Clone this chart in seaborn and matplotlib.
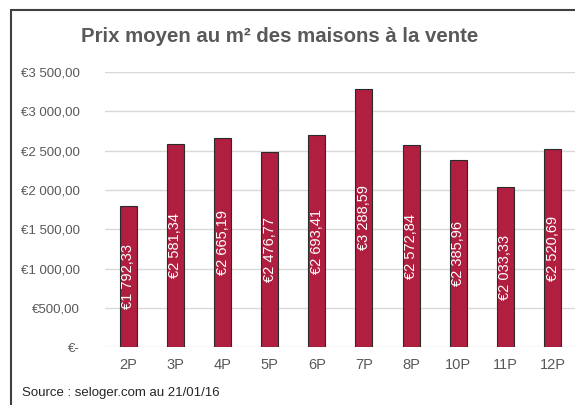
import matplotlib
matplotlib.use("Agg")
import matplotlib.pyplot as plt
import seaborn as sns
import pandas as pd
from matplotlib.ticker import FuncFormatter
from matplotlib.patches import Rectangle

categories = ["2P", "3P", "4P", "5P", "6P", "7P", "8P", "10P", "11P", "12P"]
prix = [1792.33, 2581.34, 2665.19, 2476.77, 2693.41, 3288.59, 2572.84, 2385.96, 2033.33, 2520.69]
yticks = [0, 500, 1000, 1500, 2000, 2500, 3000, 3500]

title = "Prix moyen au m² des maisons à la vente"
source = "Source : seloger.com au 21/01/16"

sns.set_theme(style="white")
plt.rcParams["font.family"] = ["Liberation Sans", "DejaVu Sans"]

grey = "#595959"
bar_color = "#B01E40"

df = pd.DataFrame({"taille": categories, "prix": prix})

fig = plt.figure(figsize=(5.75, 4.05), dpi=100)
ax = fig.add_axes([0.182, 0.143, 0.82, 0.679])

sns.barplot(data=df, x="taille", y="prix", color=bar_color, width=0.36,
            saturation=1, edgecolor="#2b2b2b", linewidth=0.8, ax=ax, zorder=3)


def euro(v):
    s = f"{v:,.2f}".replace(",", " ").replace(".", ",")
    return "€" + s


for i, v in enumerate(prix):
    ax.text(i, v / 2, euro(v), rotation=90, ha="center", va="center",
            color="white", fontsize=10.5, zorder=4)

ax.set_ylim(0, 3500)
ax.set_xlim(-0.5, 9.5)
ax.set_yticks(yticks)
ax.yaxis.set_major_formatter(FuncFormatter(lambda v, p: "€-" if v == 0 else euro(v)))
ax.grid(axis="y", color="#d9d9d9", linewidth=1, zorder=0)
for s in ax.spines.values():
    s.set_visible(False)
ax.tick_params(axis="both", length=0, colors=grey, labelsize=9.5)
ax.tick_params(axis="x", pad=8, labelsize=10.5)
ax.tick_params(axis="y", pad=18)
for lab in ax.get_yticklabels():
    lab.set_horizontalalignment("right")
ax.set_xlabel("")
ax.set_ylabel("")

fig.text(0.487, 0.91, title, ha="center", va="center", fontsize=14.7,
         fontweight="bold", color=grey)
fig.text(0.038, 0.03, source, ha="left", va="center", fontsize=9.5, color="#262626")

# chart frame
fig.patches.append(Rectangle((11 / 575, -0.1), 1.2, 1 - 10 / 405 + 0.1,
                             transform=fig.transFigure, fill=False,
                             edgecolor="#404040", linewidth=1.5))

fig.savefig("out.png", dpi=100)
